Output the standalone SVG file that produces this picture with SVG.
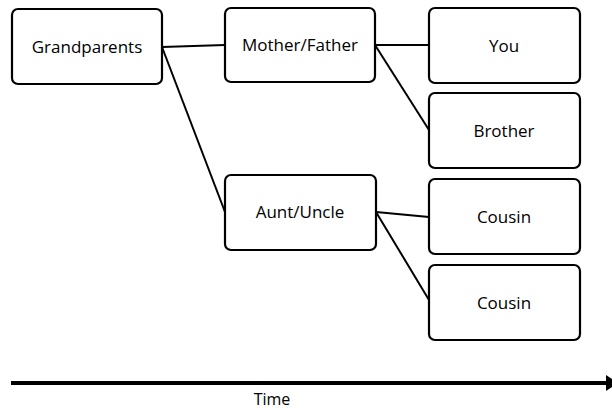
<svg xmlns="http://www.w3.org/2000/svg" width="612" height="410" viewBox="0 0 612 410">
<style>
.box{fill:#fff;stroke:#000;stroke-width:2.2}
.t{font-family:"Open Sans","Noto Sans","Liberation Sans",sans-serif;font-size:17px;fill:#000;text-anchor:middle;dominant-baseline:central}
.c{stroke:#000;stroke-width:2;fill:none}
</style>
<rect width="612" height="410" fill="#fff"/>
<g id="connectors">
<line class="c" x1="162" y1="47" x2="225" y2="45"/>
<line class="c" x1="162" y1="47" x2="225" y2="212"/>
<line class="c" x1="375" y1="45" x2="429" y2="45"/>
<line class="c" x1="375" y1="45" x2="429" y2="130"/>
<line class="c" x1="376" y1="212" x2="429" y2="217"/>
<line class="c" x1="376" y1="212" x2="429" y2="300"/>
</g>
<g id="grandparents"><rect class="box" x="12" y="9" width="150" height="75" rx="6"/><text class="t" x="87" y="46">Grandparents</text></g>
<g id="motherfather"><rect class="box" x="225" y="8" width="150" height="74" rx="6"/><text class="t" x="300" y="44">Mother/Father</text></g>
<g id="you"><rect class="box" x="429" y="8" width="151" height="75" rx="6"/><text class="t" x="504" y="45">You</text></g>
<g id="brother"><rect class="box" x="429" y="93" width="151" height="75" rx="6"/><text class="t" x="504" y="130">Brother</text></g>
<g id="auntuncle"><rect class="box" x="225" y="175" width="151" height="75" rx="6"/><text class="t" x="300" y="211">Aunt/Uncle</text></g>
<g id="cousin1"><rect class="box" x="429" y="179" width="151" height="75" rx="6"/><text class="t" x="504" y="216">Cousin</text></g>
<g id="cousin2"><rect class="box" x="429" y="265" width="151" height="75" rx="6"/><text class="t" x="504" y="302">Cousin</text></g>
<g id="timeline">
<line x1="11" y1="383" x2="606" y2="383" stroke="#000" stroke-width="4"/>
<path d="M606,375 L618,383 L606,391 Z" fill="#000"/>
<text class="t" x="272" y="399" style="font-size:16px">Time</text>
</g>
</svg>
